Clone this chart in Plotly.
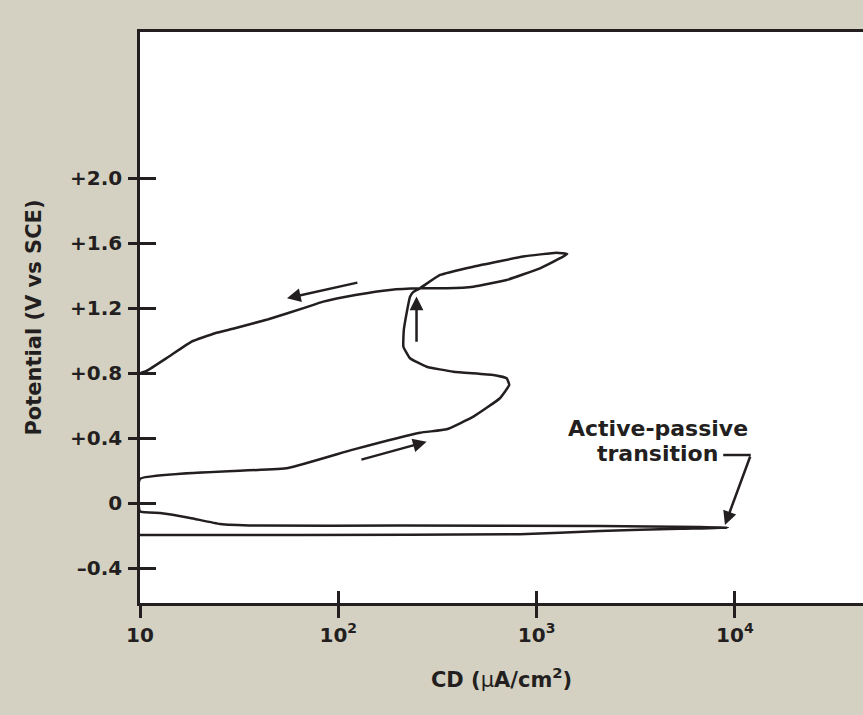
import numpy as np
import plotly.graph_objects as go

# ---- data: cyclic polarization curve (current density in uA/cm2, potential in V vs SCE)
cd = [10, 64, 824, 2090, 5280, 9230,
      6670, 2090, 205, 40, 25.3, 17.9, 12.6, 10,
      10,
      55.7, 118.6, 258, 352, 480, 653, 728, 706, 605, 380, 279, 230, 213, 214, 221, 230, 239, 258,
      326, 480, 857, 1262, 1428, 1313, 1040, 706, 480, 352, 258,
      182, 124, 84, 68, 44.4, 30.1, 23.9, 18.2, 13.9, 10.8, 10]
pot = [-0.195, -0.195, -0.19, -0.17, -0.157, -0.15,
       -0.146, -0.14, -0.137, -0.137, -0.127, -0.09, -0.06, -0.05,
       0.15,
       0.217, 0.33, 0.434, 0.455, 0.533, 0.646, 0.728, 0.769, 0.789, 0.809, 0.84, 0.892, 0.963, 1.066, 1.169, 1.27, 1.30, 1.322,
       1.404, 1.455, 1.517, 1.541, 1.533, 1.507, 1.445, 1.373, 1.332, 1.322, 1.322,
       1.312, 1.282, 1.24, 1.203, 1.132, 1.076, 1.046, 0.994, 0.90, 0.814, 0.80]

# direction arrows: (tail_cd, tail_pot, head_cd, head_pot)
arrows = [
    (127, 1.359, 55.1, 1.261),
    (248, 0.984, 248, 1.271),
    (128.5, 0.266, 279, 0.379),
]
# annotation leader
label_lines = ["Active-passive", "transition"]
label_cd = 4093
label_pot = [0.463, 0.309]
leader_cd = [12020, 8730]
leader_pot = 0.297
leader_head = (8910, -0.133)

x_tickvals = [10, 100, 1000, 10000]
x_ticktext = ["10", "10<sup>2</sup>", "10<sup>3</sup>", "10<sup>4</sup>"]
y_tickvals = [-0.4, 0, 0.4, 0.8, 1.2, 1.6, 2.0]
y_ticktext = ["\u20130.4", "0", "+0.4", "+0.8", "+1.2", "+1.6", "+2.0"]

INK = "#231f20"
BG = "#d4d1c2"
FONT = "DejaVu Sans"

fig = go.Figure()
fig.add_trace(go.Scatter(x=cd, y=pot, mode="lines",
                         line=dict(color=INK, width=2.5, shape="spline", smoothing=0.35),
                         hoverinfo="skip", showlegend=False))
# horizontal part of leader line
fig.add_trace(go.Scatter(x=leader_cd, y=[leader_pot, leader_pot], mode="lines",
                         line=dict(color=INK, width=2.5), hoverinfo="skip", showlegend=False))
# dummy trace for secondary (inside-tick) axes
fig.add_trace(go.Scatter(x=[None], y=[None], xaxis="x2", yaxis="y2",
                         hoverinfo="skip", showlegend=False))

for (tx, ty, hx, hy) in arrows:
    fig.add_annotation(x=np.log10(hx), y=hy, ax=np.log10(tx), ay=ty,
                       xref="x", yref="y", axref="x", ayref="y",
                       text="", showarrow=True, arrowhead=2, arrowsize=1.1,
                       arrowwidth=2.5, arrowcolor=INK)
fig.add_annotation(x=np.log10(leader_head[0]), y=leader_head[1],
                   ax=np.log10(leader_cd[0]), ay=leader_pot,
                   xref="x", yref="y", axref="x", ayref="y",
                   text="", showarrow=True, arrowhead=2, arrowsize=1.1,
                   arrowwidth=2.5, arrowcolor=INK)
for line, yv in zip(label_lines, label_pot):
    fig.add_annotation(x=np.log10(label_cd), y=yv, xref="x", yref="y",
                       text=line, showarrow=False, xanchor="center", yanchor="middle",
                       font=dict(family=FONT, size=22, color=INK, weight="bold"))

xr = [1, 4.646]
yr = [-0.613, 2.898]
tickfont = dict(family=FONT, size=20, color=INK, weight="bold")

fig.update_layout(
    width=863, height=715,
    margin=dict(l=140, r=0, t=32, b=112, autoexpand=False),
    paper_bgcolor=BG, plot_bgcolor="white",
    showlegend=False,
    xaxis=dict(type="log", range=xr, tickmode="array", tickvals=x_tickvals, ticktext=x_ticktext,
               ticks="outside", ticklen=12, tickwidth=2.5, tickcolor=INK,
               showline=True, linewidth=2.5, linecolor=INK, mirror=True,
               showgrid=False, zeroline=False, tickfont=tickfont, ticklabelstandoff=0,
               title=dict(text="CD (<span style='font-weight:normal'>\u03bc</span>A/cm<sup>2</sup>)",
                          font=dict(family=FONT, size=21, color=INK, weight="bold"), standoff=27)),
    yaxis=dict(range=yr, tickmode="array", tickvals=y_tickvals, ticktext=y_ticktext,
               ticks="outside", ticklen=9, tickwidth=2.5, tickcolor=INK,
               showline=True, linewidth=2.5, linecolor=INK, mirror=False,
               showgrid=False, zeroline=False, tickfont=tickfont, ticklabelstandoff=2,
               title=dict(text="Potential (V vs SCE)",
                          font=dict(family=FONT, size=21, color=INK, weight="bold"), standoff=23)),
    xaxis2=dict(type="log", range=xr, overlaying="x", tickmode="array", tickvals=x_tickvals,
                ticks="inside", ticklen=12, tickwidth=2.5, tickcolor=INK,
                showticklabels=False, showline=False, showgrid=False, zeroline=False),
    yaxis2=dict(range=yr, overlaying="y", side="left", tickmode="array", tickvals=y_tickvals,
                ticks="inside", ticklen=16, tickwidth=2.5, tickcolor=INK,
                showticklabels=False, showline=False, showgrid=False, zeroline=False),
)

fig.write_html("out.html")
